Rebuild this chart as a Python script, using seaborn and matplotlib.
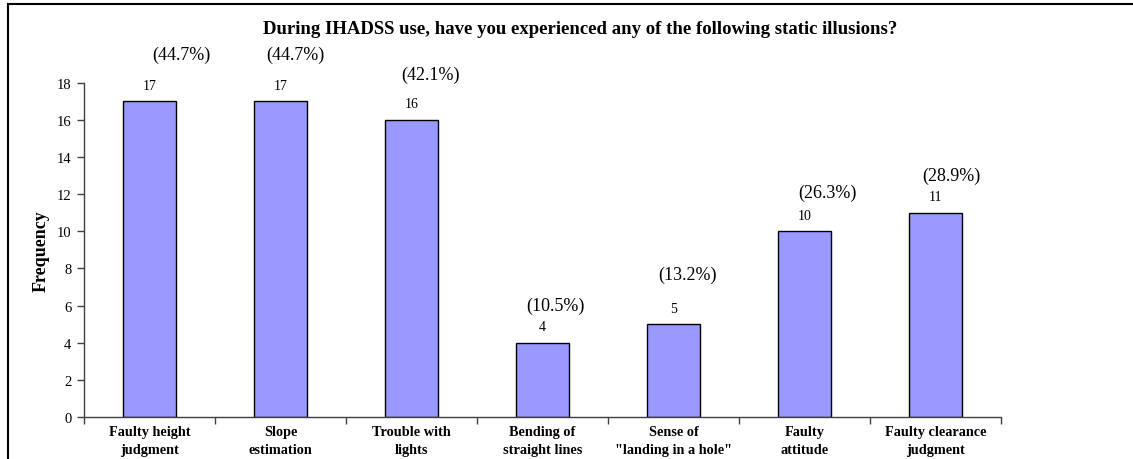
import pandas as pd
import matplotlib.pyplot as plt
import matplotlib.patches as patches
import seaborn as sns

# Data
categories = ['Faulty height\njudgment', 'Slope\nestimation', 'Trouble with\nlights',
              'Bending of\nstraight lines', 'Sense of\n"landing in a hole"',
              'Faulty\nattitude', 'Faulty clearance\njudgment']
counts = [17, 17, 16, 4, 5, 10, 11]
percent_labels = ['(44.7%)', '(44.7%)', '(42.1%)', '(10.5%)', '(13.2%)', '(26.3%)', '(28.9%)']

# hand-placed offsets (pixels) of the percent labels, as in the original
pct_dx = [32, 15, 19, 13, 14, 23, 16]
pct_dy = [47, 47, 46, 37, 50, 39, 37]

df = pd.DataFrame({'illusion': categories, 'count': counts})

sns.set_style('white')
plt.rcParams['font.family'] = ['Liberation Serif', 'DejaVu Serif']
plt.rcParams['text.color'] = 'black'
plt.rcParams['axes.labelcolor'] = 'black'

fig = plt.figure(figsize=(11.33, 4.6), dpi=100)
ax = fig.add_axes([84 / 1133, 42 / 460, 917 / 1133, 334.3 / 460])

sns.barplot(data=df, x='illusion', y='count', color='#9999FF', saturation=1,
            edgecolor='black', linewidth=1, width=0.4, ax=ax)

ax.set_ylim(0, 18)
ax.set_xlim(-0.5, len(categories) - 0.5)
ax.set_yticks(range(0, 19, 2))
ax.tick_params(axis='y', labelsize=10.5, length=5, width=1, color='#404040',
               labelcolor='black', left=True, direction='out', pad=4)
ax.set_xticks(range(len(categories)))
ax.set_xticklabels(categories, fontsize=10.3, fontweight='bold', linespacing=1.5)
ax.tick_params(axis='x', length=0, pad=6, labelcolor='black')
ax.set_xticks([i + 0.5 for i in range(-1, len(categories))], minor=True)
ax.tick_params(axis='x', which='minor', length=5, width=1, color='#404040',
               bottom=True, direction='out')

for s in ['top', 'right']:
    ax.spines[s].set_visible(False)
for s in ['left', 'bottom']:
    ax.spines[s].set_color('#404040')
    ax.spines[s].set_linewidth(1)

ax.set_xlabel('')
ax.set_ylabel('Frequency', fontsize=13, fontweight='bold', labelpad=5)

for i, (c, p) in enumerate(zip(counts, percent_labels)):
    ax.annotate(str(c), (i, c), xytext=(0, 16), textcoords='offset pixels',
                ha='center', va='center', fontsize=10)
    ax.annotate(p, (i, c), xytext=(pct_dx[i], pct_dy[i]), textcoords='offset pixels',
                ha='center', va='center', fontsize=13)

fig.text(580 / 1133, 1 - 30 / 460,
         'During IHADSS use, have you experienced any of the following static illusions?',
         ha='center', va='center', fontsize=13.5, fontweight='bold')

# chart frame (only left and top edges fall inside the image)
frame = patches.Rectangle((8 / 1133, -0.1), 1.2, 1.1 - 5 / 460, transform=fig.transFigure,
                          fill=False, edgecolor='black', linewidth=1.5, clip_on=False)
fig.patches.append(frame)

plt.savefig('out.png', dpi=100)
